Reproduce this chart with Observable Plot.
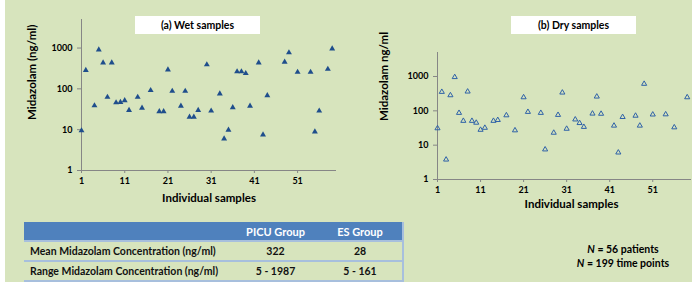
<!DOCTYPE html>
<html><head><meta charset="utf-8">
<script src="https://cdn.jsdelivr.net/npm/d3@7"></script>
<script src="https://cdn.jsdelivr.net/npm/@observablehq/plot@0.6"></script>
<style>
body{margin:0;background:#fff;}
#root{position:relative;width:692px;height:282px;background:#fff;overflow:hidden;font-family:Lato,"Open Sans",sans-serif;}
#bg{position:absolute;left:5px;top:0;width:687px;height:282px;background:#d7e4bd;}
.panel{position:absolute;top:0;}
.ttl{position:absolute;top:16px;height:18px;line-height:18px;width:125px;background:#fff;text-align:center;font-weight:bold;font-size:10.5px;color:#000;}
#tbl{position:absolute;left:24px;top:222px;width:379px;border-collapse:collapse;table-layout:fixed;font-size:10.5px;font-weight:bold;color:#111;}
#tbl td,#tbl th{height:18px;padding:0;border-bottom:2px solid #a7bfdd;}
#tbl th{background:#4f81bd;color:#fff;font-weight:bold;font-size:11px;text-align:center;border-bottom:2px solid #a7bfdd;}
#tbl td{text-align:center;}
#tbl td.lab{text-align:left;padding-left:6px;}
#tbl tr > *:last-child{border-right:2px solid #a7bfdd;}
#notes{position:absolute;left:560px;top:242px;width:126px;text-align:center;font-weight:bold;font-size:10.5px;line-height:14px;color:#000;}
</style></head>
<body>
<div id="root">
  <div id="bg"></div>
  <div class="panel" id="p1" style="left:0px"></div>
  <div class="panel" id="p2" style="left:346px"></div>
  <div class="ttl" id="t1" style="left:135px"></div>
  <div class="ttl" id="t2" style="left:511px"></div>
  <table id="tbl"></table>
  <div id="notes"></div>
</div>
<script>
// ---- data ----
const wetSample = [1,2,4,5,6,7,8,9,10,11,12,14,15,17,19,20,21,22,24,25,26,27,28,30,31,33,34,35,36,37,38,39,40,42,43,44,48,49,51,54,55,56,58,59];
const wetConc   = [9.5,285,39,910,438,63,438,46,47,52,30,63,34,92,28,28,295,88,38,88,20.5,20.5,30,392,29,76,6,9.8,35,265,265,240,38,438,7.5,69,454,771,258,258,8.9,29,305,965];
const drySample = [1,2,3,4,5,6,7,8,9,10,11,12,14,15,17,19,21,22,25,26,28,29,30,31,33,34,35,37,38,39,42,43,44,47,48,49,51,54,56,59];
const dryConc   = [31,356,3.8,284,960,87,51,364,51,45,28,32,51,54,74,27,248,93,87,7.5,23,76,340,30,56,44,34,83,260,82,37,6.1,66,72,37,611,78,79,33,248];
const yTicks = [1,10,100,1000];
const xTicks = [1,11,21,31,41,51];
const panelTitles = ["(a) Wet samples","(b) Dry samples"];
const yLabels = ["Midazolam (ng/ml)","Midazolam ng/ml"];
const xLabel = "Individual samples";
const tableGroups = ["PICU Group","ES Group"];
const tableRows = ["Mean Midazolam Concentration (ng/ml)","Range Midazolam Concentration (ng/ml)"];
const picuValues = ["322","5 - 1987"];
const esValues = ["28","5 - 161"];
const noteCounts = ["56 patients","199 time points"];

function makePanel(o){
  const data = o.samples.map((s,i)=>({sample:s, conc:o.conc[i]}));
  return Plot.plot({
    width:346, height:215,
    marginTop:o.mt, marginBottom:o.mb, marginLeft:o.ml, marginRight:o.mr,
    style:{background:"transparent", fontFamily:"Lato, sans-serif", fontSize:"9px", fontWeight:"bold", color:"#000", overflow:"visible"},
    x:{domain:[1,60]},
    y:{type:"log", domain:[1,5000]},
    marks:[
      Plot.axisX({ticks:xTicks, tickFormat:d=>String(d), tickSize:3, tickPadding:4, stroke:"#868686", fill:"#000", label:null}),
      Plot.axisY({ticks:yTicks, tickFormat:d=>String(d), tickSize:4, tickPadding:5, stroke:"#868686", fill:"#000", label:null}),
      Plot.ruleX([1], {stroke:"#868686"}),
      Plot.ruleY([1], {stroke:"#868686"}),
      Plot.dot(data, {x:"sample", y:"conc", symbol:"triangle", r:o.r,
        fill:o.filled ? "#1f4e8c" : "none", stroke:o.filled ? "none" : "#2f62a8", strokeWidth:1}),
      Plot.text([o.yLabel], {text:d=>d, frameAnchor:"left", rotate:-90, dx:o.ydx, dy:o.ydy, fontSize:11.5, fontWeight:"bold", fill:"#000"}),
      Plot.text([xLabel], {text:d=>d, frameAnchor:"bottom", dx:o.xdx, dy:o.xdy, fontSize:11.5, fontWeight:"bold", fill:"#000"})
    ]
  });
}

document.getElementById("p1").appendChild(makePanel({samples:wetSample, conc:wetConc, filled:true, r:2.2,
  yLabel:yLabels[0], mt:19, mb:45, ml:81, mr:10, ydx:-49, ydy:25, xdx:0, xdy:31}));
document.getElementById("p2").appendChild(makePanel({samples:drySample, conc:dryConc, filled:false, r:1.9,
  yLabel:yLabels[1], mt:52, mb:36, ml:91, mr:1, ydx:-53.5, ydy:5, xdx:7, xdy:28}));

document.getElementById("t1").textContent = panelTitles[0];
document.getElementById("t2").textContent = panelTitles[1];

const tbl = document.getElementById("tbl");
tbl.innerHTML = `<colgroup><col style="width:209px"><col style="width:85px"><col style="width:85px"></colgroup>` +
  `<tr><th></th><th>${tableGroups[0]}</th><th>${tableGroups[1]}</th></tr>` +
  tableRows.map((r,i)=>`<tr><td class="lab">${r}</td><td>${picuValues[i]}</td><td>${esValues[i]}</td></tr>`).join("");

document.getElementById("notes").innerHTML = noteCounts.map(n=>`<div><i>N</i> = ${n}</div>`).join("");
</script>
</body></html>
